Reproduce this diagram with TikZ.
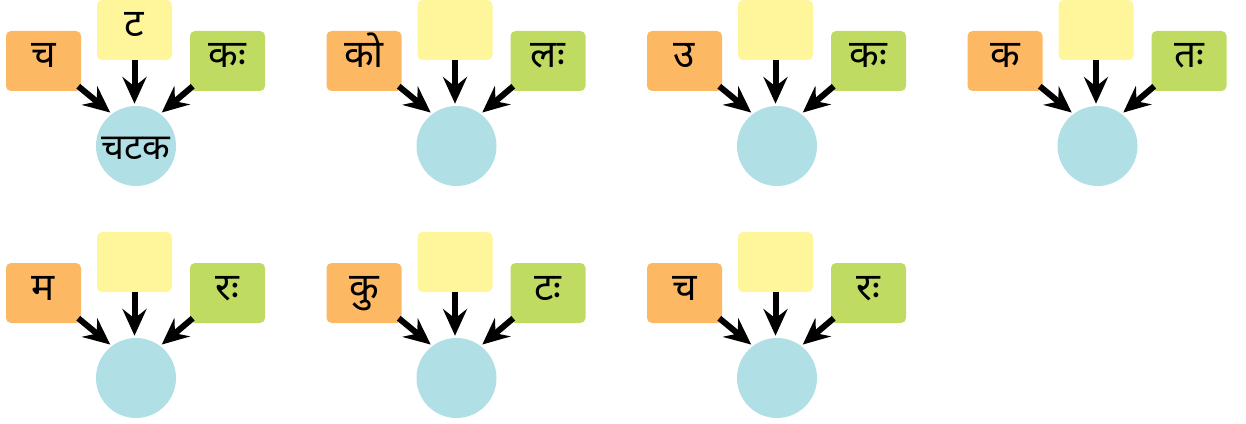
\documentclass[tikz,border=0pt]{standalone}
\usepackage{fontspec}
\newfontfamily\deva[Script=Devanagari]{Noto Sans}
\usetikzlibrary{arrows.meta}
\definecolor{boxorange}{HTML}{FDB863}
\definecolor{boxyellow}{HTML}{FFF59A}
\definecolor{boxgreen}{HTML}{BFDB62}
\definecolor{cirblue}{HTML}{B0DFE5}
\tikzset{
  sq/.style={rectangle, rounded corners=3.75pt, minimum width=56.25pt, minimum height=45pt, inner sep=0pt},
  cir/.style={circle, fill=cirblue, minimum size=60pt, inner sep=0pt},
  txt/.style={anchor=base, inner sep=0pt, font=\deva\fontsize{29}{32}\selectfont},
  ctxt/.style={anchor=base, inner sep=0pt, font=\deva\fontsize{27}{30}\selectfont},
  arr/.style={line width=4.5pt, shorten >=1.5pt, -{Stealth[length=20pt,width=18pt,inset=7pt]}}
}
\newcommand\grp[7]{%
  \node[sq, fill=boxorange] (o#1) at (#2-92.5,#3-85) {};
  \node[sq, fill=boxyellow] (y#1) at (#2-1.5,#3-116) {};
  \node[sq, fill=boxgreen] (g#1) at (#2+91.5,#3-85) {};
  \node[cir] (c#1) at (#2,#3) {};
  \node[txt] (to#1) at (#2-92.5,#3-78) {#4};
  \node[txt] (ty#1) at (#2-1.5,#3-109) {#5};
  \node[txt] (tg#1) at (#2+91.5,#3-78) {#6};
  \node[ctxt] (tc#1) at (#2,#3+14) {#7};
  \draw[arr] ([shift={(-3,-5)}]o#1.south east) -- (c#1.127);
  \draw[arr] (y#1.south) -- (y#1.south |- c#1.north);
  \draw[arr] ([shift={(3,-5)}]g#1.south west) -- (c#1.53);
}
\begin{document}
\begin{tikzpicture}[x=0.75pt, y=-0.75pt]
\useasboundingbox (0,0) rectangle (1246,424);
\grp{1}{136}{146}{च}{ट}{कः}{चटक}
\grp{2}{456.5}{146}{को}{}{लः}{}
\grp{3}{777}{146}{उ}{}{कः}{}
\grp{4}{1097.5}{146}{क}{}{तः}{}
\grp{5}{136}{378}{म}{}{रः}{}
\grp{6}{456.5}{378}{कु}{}{टः}{}
\grp{7}{777}{378}{च}{}{रः}{}
\end{tikzpicture}
\end{document}
